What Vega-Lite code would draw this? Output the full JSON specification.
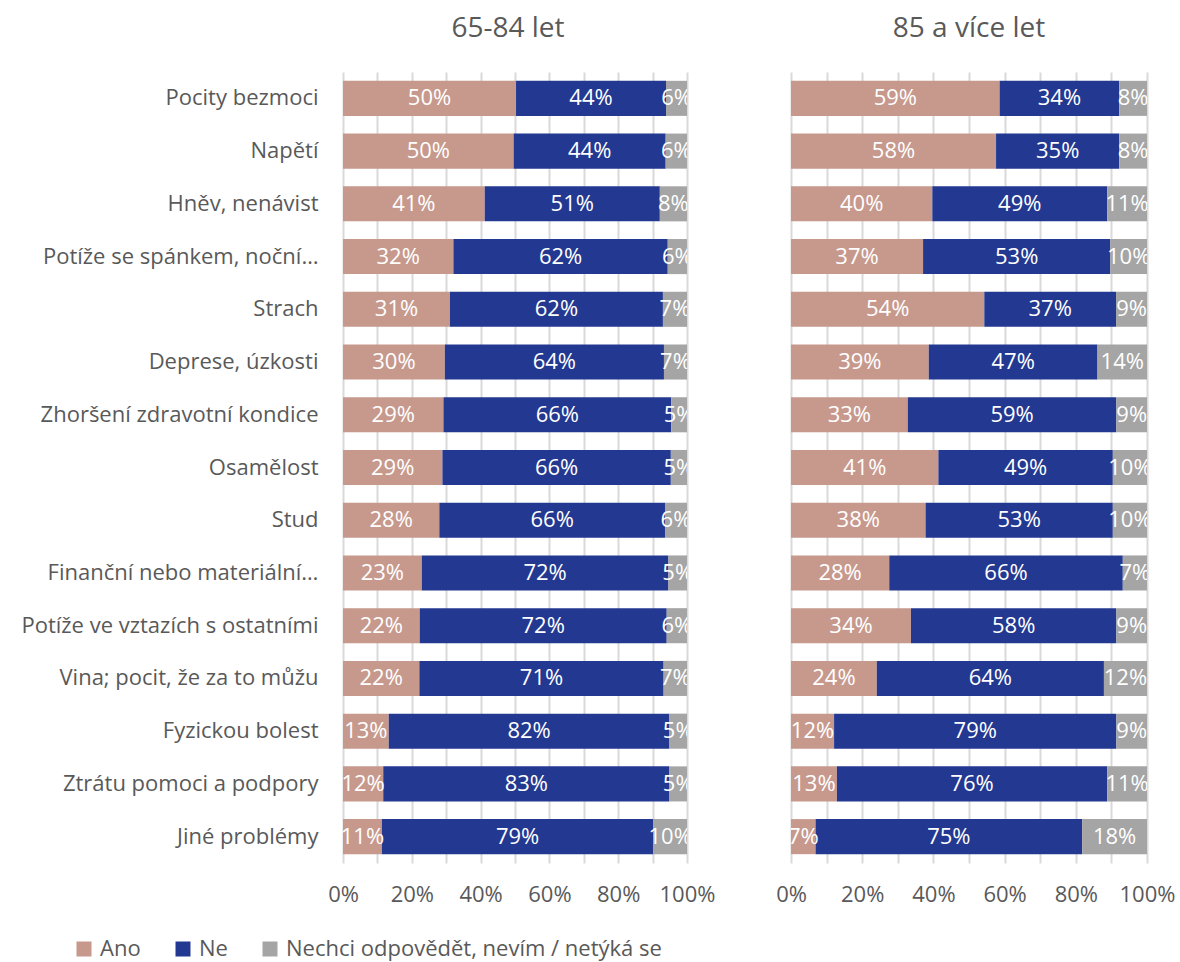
{
  "$schema": "https://vega.github.io/schema/vega-lite/v6.json",
  "padding": {"left": 8, "top": 15, "right": 5, "bottom": 5},
  "autosize": {"type": "pad"},
  "bounds": "flush",
  "spacing": 104,
  "config": {
    "font": "Open Sans",
    "view": {"stroke": null},
    "title": {"fontSize": 28, "fontWeight": "normal", "color": "#595959", "font": "Open Sans", "anchor": "middle", "frame": "group", "offset": 29},
    "axisX": {
      "grid": true, "gridColor": "#d9d9d9", "gridWidth": 2, "domain": false, "ticks": false,
      "labelFontSize": 22, "labelColor": "#595959", "labelPadding": 21, "labelFlush": false,
      "format": ".0%", "values": [0, 0.2, 0.4, 0.6, 0.8, 1], "title": null
    },
    "legend": {
      "orient": "none", "legendX": -270, "legendY": 866, "direction": "horizontal", "title": null,
      "symbolType": "square", "symbolSize": 225, "symbolStrokeWidth": 0,
      "labelFontSize": 22, "labelColor": "#595959", "labelFont": "Open Sans", "columnPadding": 31, "labelOffset": 5, "labelLimit": 600
    }
  },
  "data": {"values": [
    {"age":"65-84 let","item":"Pocity bezmoci","answer":"Ano","value":0.503},
    {"age":"65-84 let","item":"Pocity bezmoci","answer":"Ne","value":0.436},
    {"age":"65-84 let","item":"Pocity bezmoci","answer":"Nechci odpovědět, nevím / netýká se","value":0.061},
    {"age":"65-84 let","item":"Napětí","answer":"Ano","value":0.496},
    {"age":"65-84 let","item":"Napětí","answer":"Ne","value":0.442},
    {"age":"65-84 let","item":"Napětí","answer":"Nechci odpovědět, nevím / netýká se","value":0.062},
    {"age":"65-84 let","item":"Hněv, nenávist","answer":"Ano","value":0.412},
    {"age":"65-84 let","item":"Hněv, nenávist","answer":"Ne","value":0.509},
    {"age":"65-84 let","item":"Hněv, nenávist","answer":"Nechci odpovědět, nevím / netýká se","value":0.079},
    {"age":"65-84 let","item":"Potíže se spánkem, noční…","answer":"Ano","value":0.321},
    {"age":"65-84 let","item":"Potíže se spánkem, noční…","answer":"Ne","value":0.623},
    {"age":"65-84 let","item":"Potíže se spánkem, noční…","answer":"Nechci odpovědět, nevím / netýká se","value":0.056},
    {"age":"65-84 let","item":"Strach","answer":"Ano","value":0.311},
    {"age":"65-84 let","item":"Strach","answer":"Ne","value":0.619},
    {"age":"65-84 let","item":"Strach","answer":"Nechci odpovědět, nevím / netýká se","value":0.070},
    {"age":"65-84 let","item":"Deprese, úzkosti","answer":"Ano","value":0.296},
    {"age":"65-84 let","item":"Deprese, úzkosti","answer":"Ne","value":0.637},
    {"age":"65-84 let","item":"Deprese, úzkosti","answer":"Nechci odpovědět, nevím / netýká se","value":0.067},
    {"age":"65-84 let","item":"Zhoršení zdravotní kondice","answer":"Ano","value":0.292},
    {"age":"65-84 let","item":"Zhoršení zdravotní kondice","answer":"Ne","value":0.662},
    {"age":"65-84 let","item":"Zhoršení zdravotní kondice","answer":"Nechci odpovědět, nevím / netýká se","value":0.046},
    {"age":"65-84 let","item":"Osamělost","answer":"Ano","value":0.289},
    {"age":"65-84 let","item":"Osamělost","answer":"Ne","value":0.664},
    {"age":"65-84 let","item":"Osamělost","answer":"Nechci odpovědět, nevím / netýká se","value":0.047},
    {"age":"65-84 let","item":"Stud","answer":"Ano","value":0.280},
    {"age":"65-84 let","item":"Stud","answer":"Ne","value":0.656},
    {"age":"65-84 let","item":"Stud","answer":"Nechci odpovědět, nevím / netýká se","value":0.064},
    {"age":"65-84 let","item":"Finanční nebo materiální…","answer":"Ano","value":0.229},
    {"age":"65-84 let","item":"Finanční nebo materiální…","answer":"Ne","value":0.717},
    {"age":"65-84 let","item":"Finanční nebo materiální…","answer":"Nechci odpovědět, nevím / netýká se","value":0.054},
    {"age":"65-84 let","item":"Potíže ve vztazích s ostatními","answer":"Ano","value":0.223},
    {"age":"65-84 let","item":"Potíže ve vztazích s ostatními","answer":"Ne","value":0.718},
    {"age":"65-84 let","item":"Potíže ve vztazích s ostatními","answer":"Nechci odpovědět, nevím / netýká se","value":0.059},
    {"age":"65-84 let","item":"Vina; pocit, že za to můžu","answer":"Ano","value":0.222},
    {"age":"65-84 let","item":"Vina; pocit, že za to můžu","answer":"Ne","value":0.710},
    {"age":"65-84 let","item":"Vina; pocit, že za to můžu","answer":"Nechci odpovědět, nevím / netýká se","value":0.068},
    {"age":"65-84 let","item":"Fyzickou bolest","answer":"Ano","value":0.133},
    {"age":"65-84 let","item":"Fyzickou bolest","answer":"Ne","value":0.816},
    {"age":"65-84 let","item":"Fyzickou bolest","answer":"Nechci odpovědět, nevím / netýká se","value":0.051},
    {"age":"65-84 let","item":"Ztrátu pomoci a podpory","answer":"Ano","value":0.117},
    {"age":"65-84 let","item":"Ztrátu pomoci a podpory","answer":"Ne","value":0.832},
    {"age":"65-84 let","item":"Ztrátu pomoci a podpory","answer":"Nechci odpovědět, nevím / netýká se","value":0.051},
    {"age":"65-84 let","item":"Jiné problémy","answer":"Ano","value":0.113},
    {"age":"65-84 let","item":"Jiné problémy","answer":"Ne","value":0.789},
    {"age":"65-84 let","item":"Jiné problémy","answer":"Nechci odpovědět, nevím / netýká se","value":0.098},
    {"age":"85 a více let","item":"Pocity bezmoci","answer":"Ano","value":0.586},
    {"age":"85 a více let","item":"Pocity bezmoci","answer":"Ne","value":0.336},
    {"age":"85 a více let","item":"Pocity bezmoci","answer":"Nechci odpovědět, nevím / netýká se","value":0.078},
    {"age":"85 a více let","item":"Napětí","answer":"Ano","value":0.576},
    {"age":"85 a více let","item":"Napětí","answer":"Ne","value":0.346},
    {"age":"85 a více let","item":"Napětí","answer":"Nechci odpovědět, nevím / netýká se","value":0.078},
    {"age":"85 a více let","item":"Hněv, nenávist","answer":"Ano","value":0.397},
    {"age":"85 a více let","item":"Hněv, nenávist","answer":"Ne","value":0.491},
    {"age":"85 a více let","item":"Hněv, nenávist","answer":"Nechci odpovědět, nevím / netýká se","value":0.112},
    {"age":"85 a více let","item":"Potíže se spánkem, noční…","answer":"Ano","value":0.371},
    {"age":"85 a více let","item":"Potíže se spánkem, noční…","answer":"Ne","value":0.526},
    {"age":"85 a více let","item":"Potíže se spánkem, noční…","answer":"Nechci odpovědět, nevím / netýká se","value":0.103},
    {"age":"85 a více let","item":"Strach","answer":"Ano","value":0.543},
    {"age":"85 a více let","item":"Strach","answer":"Ne","value":0.370},
    {"age":"85 a více let","item":"Strach","answer":"Nechci odpovědět, nevím / netýká se","value":0.087},
    {"age":"85 a více let","item":"Deprese, úzkosti","answer":"Ano","value":0.387},
    {"age":"85 a více let","item":"Deprese, úzkosti","answer":"Ne","value":0.474},
    {"age":"85 a více let","item":"Deprese, úzkosti","answer":"Nechci odpovědět, nevím / netýká se","value":0.139},
    {"age":"85 a více let","item":"Zhoršení zdravotní kondice","answer":"Ano","value":0.328},
    {"age":"85 a více let","item":"Zhoršení zdravotní kondice","answer":"Ne","value":0.586},
    {"age":"85 a více let","item":"Zhoršení zdravotní kondice","answer":"Nechci odpovědět, nevím / netýká se","value":0.086},
    {"age":"85 a více let","item":"Osamělost","answer":"Ano","value":0.414},
    {"age":"85 a více let","item":"Osamělost","answer":"Ne","value":0.490},
    {"age":"85 a více let","item":"Osamělost","answer":"Nechci odpovědět, nevím / netýká se","value":0.096},
    {"age":"85 a více let","item":"Stud","answer":"Ano","value":0.378},
    {"age":"85 a více let","item":"Stud","answer":"Ne","value":0.526},
    {"age":"85 a více let","item":"Stud","answer":"Nechci odpovědět, nevím / netýká se","value":0.096},
    {"age":"85 a více let","item":"Finanční nebo materiální…","answer":"Ano","value":0.276},
    {"age":"85 a více let","item":"Finanční nebo materiální…","answer":"Ne","value":0.656},
    {"age":"85 a více let","item":"Finanční nebo materiální…","answer":"Nechci odpovědět, nevím / netýká se","value":0.068},
    {"age":"85 a více let","item":"Potíže ve vztazích s ostatními","answer":"Ano","value":0.337},
    {"age":"85 a více let","item":"Potíže ve vztazích s ostatními","answer":"Ne","value":0.577},
    {"age":"85 a více let","item":"Potíže ve vztazích s ostatními","answer":"Nechci odpovědět, nevím / netýká se","value":0.086},
    {"age":"85 a více let","item":"Vina; pocit, že za to můžu","answer":"Ano","value":0.241},
    {"age":"85 a více let","item":"Vina; pocit, že za to můžu","answer":"Ne","value":0.638},
    {"age":"85 a více let","item":"Vina; pocit, že za to můžu","answer":"Nechci odpovědět, nevím / netýká se","value":0.121},
    {"age":"85 a více let","item":"Fyzickou bolest","answer":"Ano","value":0.121},
    {"age":"85 a více let","item":"Fyzickou bolest","answer":"Ne","value":0.793},
    {"age":"85 a více let","item":"Fyzickou bolest","answer":"Nechci odpovědět, nevím / netýká se","value":0.086},
    {"age":"85 a více let","item":"Ztrátu pomoci a podpory","answer":"Ano","value":0.129},
    {"age":"85 a více let","item":"Ztrátu pomoci a podpory","answer":"Ne","value":0.759},
    {"age":"85 a více let","item":"Ztrátu pomoci a podpory","answer":"Nechci odpovědět, nevím / netýká se","value":0.112},
    {"age":"85 a více let","item":"Jiné problémy","answer":"Ano","value":0.069},
    {"age":"85 a více let","item":"Jiné problémy","answer":"Ne","value":0.749},
    {"age":"85 a více let","item":"Jiné problémy","answer":"Nechci odpovědět, nevím / netýká se","value":0.182}
  ]},
  "hconcat": [
    {
      "title": {"text": "65-84 let", "dx": -7},
      "width": 344,
      "height": 791,
      "transform": [{"filter": "datum.age === '65-84 let'"}],
      "encoding": {
        "y": {
          "field": "item", "type": "nominal",
          "sort": ["Pocity bezmoci","Napětí","Hněv, nenávist","Potíže se spánkem, noční…","Strach","Deprese, úzkosti","Zhoršení zdravotní kondice","Osamělost","Stud","Finanční nebo materiální…","Potíže ve vztazích s ostatními","Vina; pocit, že za to můžu","Fyzickou bolest","Ztrátu pomoci a podpory","Jiné problémy"],
          "scale": {"paddingInner": 0.335, "paddingOuter": 0.1675},
          "axis": {"title": null, "domain": false, "ticks": false, "grid": false, "labelFontSize": 22, "labelColor": "#595959", "labelPadding": 25, "labelLimit": 600, "minExtent": 335, "maxExtent": 335}
        }
      },
      "layer": [
        {
          "mark": {"type": "bar"},
          "encoding": {
            "x": {"field": "value", "type": "quantitative", "stack": "zero", "scale": {"domain": [0, 1], "nice": false}},
            "color": {"field": "answer", "type": "nominal", "scale": {"domain": ["Ano", "Ne", "Nechci odpovědět, nevím / netýká se"], "range": ["#C7998D", "#233891", "#A5A5A5"]}},
            "order": {"field": "answer", "sort": "ascending"}
          }
        },
        {
          "mark": {"type": "text", "color": "white", "fontSize": 22, "align": "center", "baseline": "middle", "clip": true},
          "encoding": {
            "x": {"field": "value", "type": "quantitative", "stack": "zero", "bandPosition": 0.5},
            "detail": {"field": "answer"},
            "order": {"field": "answer", "sort": "ascending"},
            "text": {"field": "value", "type": "quantitative", "format": ".0%"}
          }
        }
      ]
    },
    {
      "title": "85 a více let",
      "width": 356,
      "height": 791,
      "transform": [{"filter": "datum.age === '85 a více let'"}],
      "encoding": {
        "y": {
          "field": "item", "type": "nominal",
          "sort": ["Pocity bezmoci","Napětí","Hněv, nenávist","Potíže se spánkem, noční…","Strach","Deprese, úzkosti","Zhoršení zdravotní kondice","Osamělost","Stud","Finanční nebo materiální…","Potíže ve vztazích s ostatními","Vina; pocit, že za to můžu","Fyzickou bolest","Ztrátu pomoci a podpory","Jiné problémy"],
          "scale": {"paddingInner": 0.335, "paddingOuter": 0.1675},
          "axis": null
        }
      },
      "layer": [
        {
          "mark": {"type": "bar"},
          "encoding": {
            "x": {"field": "value", "type": "quantitative", "stack": "zero", "scale": {"domain": [0, 1], "nice": false}},
            "color": {"field": "answer", "type": "nominal", "scale": {"domain": ["Ano", "Ne", "Nechci odpovědět, nevím / netýká se"], "range": ["#C7998D", "#233891", "#A5A5A5"]}},
            "order": {"field": "answer", "sort": "ascending"}
          }
        },
        {
          "mark": {"type": "text", "color": "white", "fontSize": 22, "align": "center", "baseline": "middle", "clip": true},
          "encoding": {
            "x": {"field": "value", "type": "quantitative", "stack": "zero", "bandPosition": 0.5},
            "detail": {"field": "answer"},
            "order": {"field": "answer", "sort": "ascending"},
            "text": {"field": "value", "type": "quantitative", "format": ".0%"}
          }
        }
      ]
    }
  ]
}
